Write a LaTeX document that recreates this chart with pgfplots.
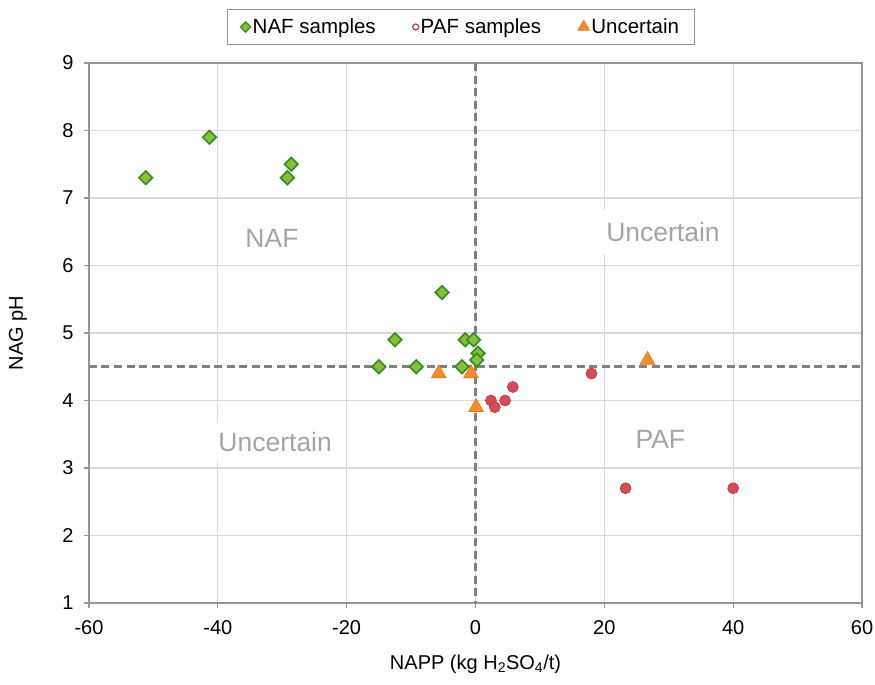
\documentclass[border=0pt]{standalone}
\usepackage{fontspec}
\setmainfont{Liberation Sans}
\usepackage{pgfplots}
\pgfplotsset{compat=1.18}
\definecolor{naffill}{RGB}{135,190,60}
\definecolor{nafdraw}{RGB}{50,140,30}
\definecolor{paffill}{RGB}{214,75,85}
\definecolor{pafdraw}{RGB}{185,55,65}
\definecolor{uncfill}{RGB}{245,140,40}
\definecolor{uncdraw}{RGB}{230,115,25}
\definecolor{gridc}{RGB}{217,217,217}
\definecolor{axc}{RGB}{150,150,150}
\definecolor{labc}{RGB}{165,165,165}
\definecolor{dashc}{RGB}{128,128,128}
\begin{document}
\begin{tikzpicture}
\useasboundingbox (-89pt,-82pt) rectangle (786pt,603pt);
\begin{axis}[
  scale only axis,
  width=773pt, height=540pt,
  xmin=-60, xmax=60, ymin=1, ymax=9,
  xtick={-60,-40,...,60}, ytick={1,...,9},
  grid=major,
  major grid style={draw=gridc, line width=1.2pt},
  axis line style={draw=axc, line width=1.4pt},
  tick style={draw=axc, line width=1.2pt},
  tick align=outside, tickwidth=5pt,
  xtick pos=bottom, ytick pos=left,
  /pgf/number format/assume math mode=true,
  ticklabel style={font=\fontsize{20}{22}\selectfont},
  xticklabel style={yshift=-9pt},
  yticklabel style={xshift=-7pt},
  xlabel={NAPP (kg H\textsubscript{2}SO\textsubscript{4}/t)},
  ylabel={NAG pH},
  every axis x label/.style={at={(axis description cs:0.5,0)}, anchor=center, yshift=-61pt, font=\fontsize{20}{22}\selectfont},
  every axis y label/.style={at={(axis description cs:0,0.5)}, anchor=center, rotate=90, yshift=71pt, font=\fontsize{20}{22}\selectfont},
  legend columns=3,
  legend style={at={(0.481,1.0667)}, anchor=center, draw=axc, line width=1.2pt,
    font=\fontsize{20.5}{23}\selectfont, inner xsep=13pt, inner ysep=7pt,
    /tikz/every even column/.append style={column sep=35pt}},
  legend image post style={line width=1pt},
  clip=false,
]
\addlegendimage{only marks, mark=square*, mark size=3.6pt, mark options={rotate=45, fill=naffill, draw=nafdraw, line width=1.2pt}}
\addlegendentry{NAF samples}
\addlegendimage{only marks, mark=o, mark size=3pt, mark options={draw=pafdraw, line width=1.2pt}}
\addlegendentry{PAF samples}
\addlegendimage{only marks, mark=triangle*, mark size=6.5pt, mark options={fill=uncfill, draw=uncdraw, line width=0.8pt}}
\addlegendentry{Uncertain}

\addplot[forget plot, draw=dashc, line width=3pt, dash pattern=on 8pt off 4.5pt] coordinates {(-60,4.5) (60,4.5)};
\addplot[forget plot, draw=dashc, line width=3pt, dash pattern=on 8pt off 4.5pt] coordinates {(0,9) (0,1)};

\node[fill=white, minimum width=130pt, minimum height=38pt, text=labc, font=\fontsize{26.5}{30}\selectfont] at (axis cs:-31.1,3.39) {Uncertain};
\node[fill=white, minimum width=130pt, minimum height=44pt, text=labc, font=\fontsize{26.5}{30}\selectfont] at (axis cs:29.1,6.49) {Uncertain};
\node[text=labc, font=\fontsize{26.5}{30}\selectfont] at (axis cs:-31.6,6.40) {NAF};
\node[text=labc, font=\fontsize{26.5}{30}\selectfont] at (axis cs:28.7,3.43) {PAF};

\addplot[forget plot, only marks, mark=square*, mark size=4.8pt, mark options={rotate=45, fill=naffill, draw=nafdraw, line width=1.6pt}] coordinates {
(-51.2,7.3) (-41.3,7.9) (-29.2,7.3) (-28.6,7.5) (-5.2,5.6) (-12.5,4.9) (-15.0,4.5)
(-9.2,4.5) (-2.1,4.5) (-1.6,4.9) (-0.3,4.9) (0.4,4.7) (0.2,4.6)};
\addplot[forget plot, only marks, mark=*, mark size=5.5pt, mark options={fill=paffill, draw=pafdraw, line width=0.6pt}] coordinates {
(18.0,4.4) (5.8,4.2) (2.4,4.0) (4.6,4.0) (3.0,3.9) (23.3,2.7) (40.0,2.7)};
\addplot[forget plot, only marks, mark=triangle*, mark size=8.5pt, mark options={fill=uncfill, draw=uncdraw, line width=0.6pt}] coordinates {
(-5.7,4.4) (-0.7,4.4) (0.1,3.9) (26.7,4.6)};
\end{axis}
\end{tikzpicture}
\end{document}
